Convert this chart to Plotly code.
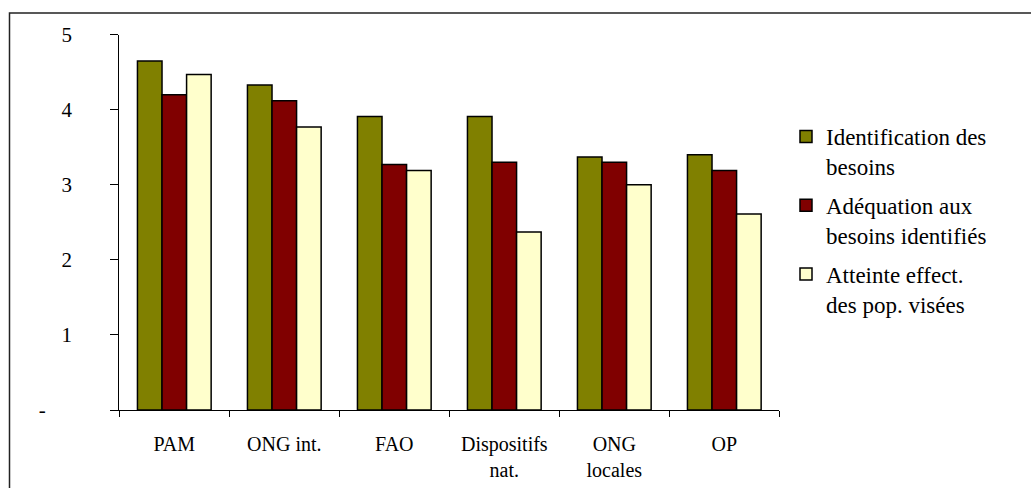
import plotly.graph_objects as go

categories = ["PAM", "ONG int.", "FAO", "Dispositifs<br>nat.", "ONG<br>locales", "OP"]
identification = [4.65, 4.33, 3.91, 3.91, 3.37, 3.40]
adequation = [4.20, 4.12, 3.27, 3.30, 3.30, 3.19]
atteinte = [4.47, 3.77, 3.19, 2.37, 3.00, 2.61]
series_names = ["Identification des<br>besoins",
                "Adéquation aux<br>besoins identifiés",
                "Atteinte effect.<br>des pop. visées"]
y_ticks = [0, 1, 2, 3, 4, 5]
y_ticktext = ["-" + "\u00a0" * 5, "1", "2", "3", "4", "5"]

colors = ["#808000", "#800000", "#FFFFCC"]

W, H = 1031, 488
FONT = "Liberation Serif"

fig = go.Figure()
for name, vals, col in zip(series_names, [identification, adequation, atteinte], colors):
    fig.add_trace(go.Bar(
        x=categories, y=vals, name=name, legendgroup=name,
        marker=dict(color=col, line=dict(color="black", width=1.5)),
    ))

fig.update_layout(
    template="none",
    width=W, height=H,
    margin=dict(l=0, r=0, t=0, b=0),
    paper_bgcolor="white", plot_bgcolor="white",
    barmode="group", bargap=0.33, bargroupgap=0,
    font=dict(family=FONT, color="black", size=20),
    showlegend=True,
    legend=dict(
        x=786 / W, xanchor="left", y=1 - 115 / H, yanchor="top",
        font=dict(family=FONT, size=23, color="black"),
        valign="top", bgcolor="rgba(0,0,0,0)", borderwidth=0,
        tracegroupgap=6,
    ),
    xaxis=dict(
        domain=[119.3 / W, 779.3 / W],
        automargin=False,
        showgrid=False, zeroline=False,
        showline=True, linecolor="black", linewidth=1,
        ticks="outside", tickson="boundaries", ticklen=6, tickcolor="black",
        ticklabelstandoff=16,
        tickfont=dict(family=FONT, size=20, color="black"),
    ),
    yaxis=dict(
        domain=[78 / H, (H - 34.7) / H],
        automargin=False,
        range=[0, 5],
        tickvals=y_ticks, ticktext=y_ticktext,
        showgrid=False, zeroline=False,
        showline=True, linecolor="black", linewidth=1,
        ticks="outside", ticklen=8, tickcolor="black",
        ticklabelstandoff=34,
        tickfont=dict(family=FONT, size=21, color="black"),
    ),
    shapes=[dict(
        type="rect", xref="paper", yref="paper",
        x0=9.5 / W, x1=1.05, y0=-0.05, y1=1 - 13 / H,
        line=dict(color="#222", width=1.5), fillcolor="rgba(0,0,0,0)",
        layer="above",
    )],
)

fig.write_html(
    "out.html",
    config={"displayModeBar": False},
    post_script="document.body.style.margin='0';document.body.style.overflow='hidden';",
)
